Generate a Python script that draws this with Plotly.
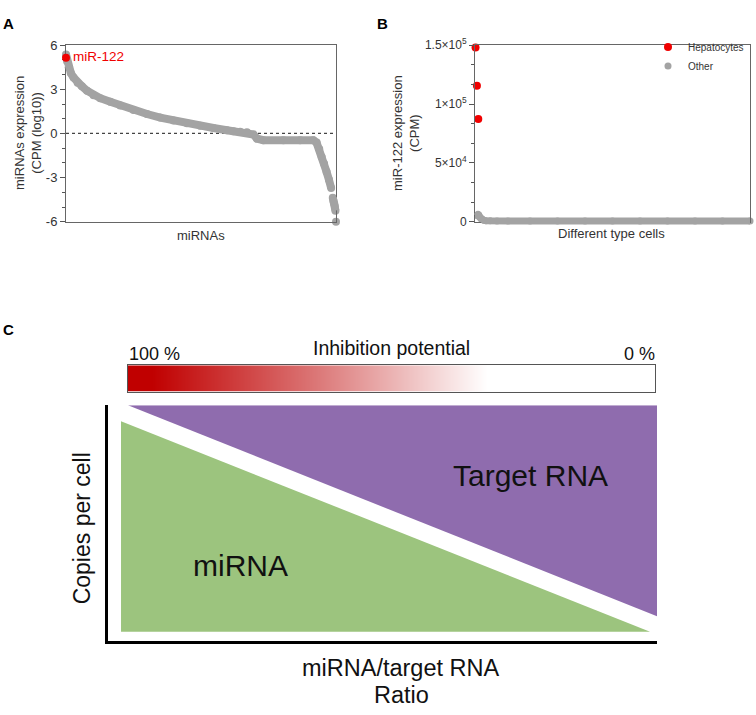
import plotly.graph_objects as go

W, H = 756, 715

# ---------------- Panel A data (rank of miRNA, log10 CPM) ----------------
mirna_rank = [0, 4, 10, 18, 28, 43, 59, 78, 102, 127, 164, 201, 250, 300, 349, 398,
              448, 497, 546, 596, 620, 645, 670, 694, 707, 731, 805, 867, 916, 928,
              938, 947, 956, 965, 974, 982, None, 988, 991, 994, 996, 998, None, 1000]
mirna_expr = [5.37, 4.9, 4.5, 4.1, 3.8, 3.45, 3.2, 2.9, 2.6, 2.4, 2.15, 1.9, 1.6, 1.32,
              1.08, 0.88, 0.7, 0.53, 0.37, 0.22, 0.15, 0.12, 0.09, -0.07, -0.35, -0.46,
              -0.46, -0.46, -0.46, -0.62, -1.06, -1.6, -2.05, -2.6, -3.15, -3.7, None,
              -4.36, -4.6, -4.8, -5.0, -5.24, None, -6.0]
mir122_rank = [0]
mir122_expr = [5.15]
a_ticks = [6, 3, 0, -3, -6]
a_ticktext = ["6", "3", "0", "-3", "-6"]

# ---------------- Panel B data (rank of cell type, CPM) ----------------
hep_rank = [2, 7, 12]
hep_cpm = [148000, 115500, 87200]
other_rank = [9, 11, 14, 17, 21, 26, 32, 40, 55, 80, 120, 200, 300, 400, 500, 600,
              700, 800, 900, 1000]
other_cpm = [5200, 6500, 5600, 4000, 2800, 1900, 1300, 1000, 800, 700, 700, 700, 700,
             700, 700, 700, 700, 700, 700, 700]
b_ticks = [0, 50000, 100000, 150000]
b_ticktext = ["0", "5×10<sup>4</sup>", "1×10<sup>5</sup>", "1.5×10<sup>5</sup>"]

# ---------------- Panel C data ----------------
inhibition_pos = [0, 1, 2, 3, 4, 5, 6, 7, 8, 9, 10]
inhibition_pct = [100, 90, 80, 70, 60, 50, 40, 30, 20, 10, 0]
mirna_poly_x = [0, 0, 98.7]
mirna_poly_y = [0, 93, 0]
target_poly_x = [1.3, 100, 100]
target_poly_y = [100, 100, 6.9]

GRAY = "#a3a3a3"
RED = "#f00000"
FONT = "Liberation Sans, Arial, sans-serif"


def px(x):
    return x / W


def py(y):
    return 1 - y / H


# plot-area pixel boxes (left, right, top, bottom)
A_BOX = (66, 336, 37, 218)
B_BOX = (475, 750, 37, 218)
A_RANGE_X, A_RANGE_Y = (0, 1000), (-6, 6)
B_RANGE_X, B_RANGE_Y = (0, 1000), (0, 150000)
PAD = 6  # extra pixels for the unclipped data axes


def padded(box, rx, ry, pad):
    l, r, t, b = box
    ux = (rx[1] - rx[0]) / (r - l)
    uy = (ry[1] - ry[0]) / (b - t)
    dom_x = [px(max(l - pad, 0)), px(min(r + pad, W))]
    dom_y = [py(min(b + pad, H)), py(max(t - pad, 0))]
    rng_x = [rx[0] - (l - max(l - pad, 0)) * ux, rx[1] + (min(r + pad, W) - r) * ux]
    rng_y = [ry[0] - (min(b + pad, H) - b) * uy, ry[1] + (t - max(t - pad, 0)) * uy]
    return dom_x, dom_y, rng_x, rng_y


a_dx, a_dy, a_rx, a_ry = padded(A_BOX, A_RANGE_X, A_RANGE_Y, PAD)
b_dx, b_dy, b_rx, b_ry = padded(B_BOX, B_RANGE_X, B_RANGE_Y, PAD)

fig = go.Figure()

# Panel A: gray markers on the framed axes, band + highlight on padded axes (same scale)
fig.add_trace(go.Scatter(x=mirna_rank, y=mirna_expr, mode="markers", marker=dict(color=GRAY, size=8),
                         showlegend=False, xaxis="x", yaxis="y", cliponaxis=False))
fig.add_trace(go.Scatter(x=mirna_rank, y=mirna_expr, mode="lines", line=dict(color=GRAY, width=8),
                         connectgaps=False, showlegend=False, hoverinfo="skip",
                         xaxis="x5", yaxis="y5"))
fig.add_trace(go.Scatter(x=mir122_rank, y=mir122_expr, mode="markers", marker=dict(color=RED, size=8),
                         showlegend=False, xaxis="x5", yaxis="y5", cliponaxis=False))

# Panel B
fig.add_trace(go.Scatter(x=hep_rank, y=hep_cpm, mode="markers", marker=dict(color=RED, size=8),
                         name="Hepatocytes", xaxis="x2", yaxis="y2", cliponaxis=False))
fig.add_trace(go.Scatter(x=other_rank, y=other_cpm, mode="markers", marker=dict(color=GRAY, size=7),
                         name="Other", xaxis="x2", yaxis="y2", cliponaxis=False))
fig.add_trace(go.Scatter(x=other_rank, y=other_cpm, mode="lines", line=dict(color=GRAY, width=7),
                         showlegend=False, hoverinfo="skip", xaxis="x6", yaxis="y6"))

# Panel C: colour bar
fig.add_trace(go.Heatmap(x=inhibition_pos, y=[0], z=[inhibition_pct], zmin=0, zmax=100,
                         zsmooth="best", showscale=False, hoverinfo="skip",
                         colorscale=[[0, "#ffffff"], [0.3, "#ffffff"], [0.65, "#dc7a7a"], [1, "#c00000"]],
                         xaxis="x4", yaxis="y4"))

# Panel C: polygons
fig.add_trace(go.Scatter(x=mirna_poly_x, y=mirna_poly_y, fill="toself", mode="lines",
                         line=dict(width=0, color="#9cc47e"), fillcolor="#9cc47e",
                         showlegend=False, hoverinfo="skip", xaxis="x3", yaxis="y3"))
fig.add_trace(go.Scatter(x=target_poly_x, y=target_poly_y, fill="toself", mode="lines",
                         line=dict(width=0, color="#8f6cae"), fillcolor="#8f6cae",
                         showlegend=False, hoverinfo="skip", xaxis="x3", yaxis="y3"))

axis_common = dict(showgrid=False, zeroline=False)
hidden = dict(visible=False, showgrid=False, zeroline=False, fixedrange=True)

fig.update_layout(
    width=W, height=H,
    margin=dict(l=0, r=0, t=0, b=0),
    paper_bgcolor="white", plot_bgcolor="rgba(0,0,0,0)",
    font=dict(family=FONT, color="#333"),
    showlegend=True,
    legend=dict(x=px(648), y=py(24), xanchor="left", yanchor="top",
                font=dict(size=10, color="#333"), bgcolor="rgba(0,0,0,0)",
                tracegroupgap=0, itemwidth=30),
    xaxis=dict(domain=[px(A_BOX[0]), px(A_BOX[1])], range=list(A_RANGE_X), showline=True,
               linecolor="#666", linewidth=1, mirror=True, showticklabels=False, ticks="",
               anchor="y", **axis_common),
    yaxis=dict(domain=[py(A_BOX[3]), py(A_BOX[2])], range=list(A_RANGE_Y), showline=True,
               linecolor="#666", linewidth=1, mirror=True, tickvals=a_ticks, ticktext=a_ticktext,
               ticks="outside", ticklen=5, tickcolor="#555", tickfont=dict(size=13, color="#333"),
               minor=dict(dtick=1, ticks="outside", ticklen=3, tickcolor="#555"),
               anchor="x", **axis_common),
    xaxis2=dict(domain=[px(B_BOX[0]), px(B_BOX[1])], range=list(B_RANGE_X), showline=True,
                linecolor="#666", linewidth=1, mirror=True, showticklabels=False, ticks="",
                anchor="y2", **axis_common),
    yaxis2=dict(domain=[py(B_BOX[3]), py(B_BOX[2])], range=list(B_RANGE_Y), showline=True,
                linecolor="#666", linewidth=1, mirror=True, tickvals=b_ticks, ticktext=b_ticktext,
                ticks="outside", ticklen=5, tickcolor="#555", tickfont=dict(size=12, color="#333"),
                minor=dict(dtick=50000 / 3, ticks="outside", ticklen=3, tickcolor="#555"),
                anchor="x2", **axis_common),
    xaxis3=dict(domain=[px(108), px(657)], range=[-2.43, 100], showline=True, linecolor="black",
                linewidth=3, showticklabels=False, ticks="", anchor="y3", **axis_common),
    yaxis3=dict(domain=[py(647), py(406)], range=[-3.9, 100], showline=True, linecolor="black",
                linewidth=3, showticklabels=False, ticks="", anchor="x3", **axis_common),
    xaxis4=dict(domain=[px(128), px(655)], range=[-0.5, 10.5], showline=True, linecolor="#555",
                linewidth=1, mirror=True, showticklabels=False, ticks="", anchor="y4", **axis_common),
    yaxis4=dict(domain=[py(392), py(365)], range=[-0.5, 0.5], showline=True, linecolor="#555",
                linewidth=1, mirror=True, showticklabels=False, ticks="", anchor="x4", **axis_common),
    xaxis5=dict(domain=a_dx, range=a_rx, anchor="y5", **hidden),
    yaxis5=dict(domain=a_dy, range=a_ry, anchor="x5", **hidden),
    xaxis6=dict(domain=b_dx, range=b_rx, anchor="y6", **hidden),
    yaxis6=dict(domain=b_dy, range=b_ry, anchor="x6", **hidden),
)

fig.add_shape(type="line", xref="x", yref="y", x0=0, x1=1000, y0=0, y1=0,
              line=dict(color="#444", width=1.2, dash="dot"), layer="below")


def ann(text, x, y, size, color="#111", angle=0, xanchor="center", bold=False):
    if bold:
        text = "<b>" + text + "</b>"
    fig.add_annotation(text=text, x=px(x), y=py(y), xref="paper", yref="paper",
                       showarrow=False, xanchor=xanchor, yanchor="middle", textangle=angle,
                       font=dict(size=size, color=color, family=FONT))


ann("A", 8, 15, 15, color="#000", bold=True)
ann("B", 382, 15, 15, color="#000", bold=True)
ann("C", 8, 328, 15, color="#000", bold=True)

ann("miRNAs expression<br>(CPM (log10))", 28, 127, 13, color="#333", angle=-90)
ann("miRNAs", 201, 232, 13, color="#333")
ann("miR-122", 71, 49, 13.5, color=RED, xanchor="left")

ann("miR-122 expression<br>(CPM)", 406, 127, 13, color="#333", angle=-90)
ann("Different type cells", 611, 230, 13, color="#333")

ann("Inhibition potential", 391, 347, 19.5)
ann("100 %", 127, 353, 18, xanchor="left")
ann("0 %", 657, 353, 18, xanchor="right")
ann("Copies per cell", 82, 532, 23, angle=-90)
ann("Target RNA", 530, 478, 30)
ann("miRNA", 240, 570, 30)
ann("miRNA/target RNA", 401, 675, 23.5)
ann("Ratio", 401, 703, 23.5)

fig.write_html("out.html", config={"displayModeBar": False},
               post_script="document.body.style.margin='0';document.body.style.overflow='hidden';")
